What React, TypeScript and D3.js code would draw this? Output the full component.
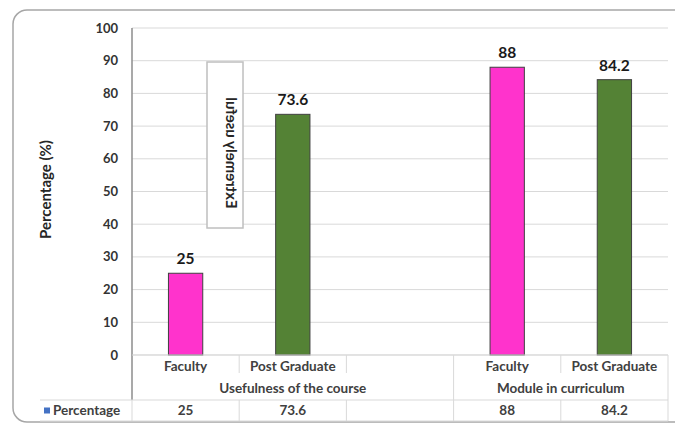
import React from "react";
import * as d3 from "d3";

const categories = ["Faculty", "Post Graduate", "", "Faculty", "Post Graduate"];
const values: (number | null)[] = [25, 73.6, null, 88, 84.2];
const groups = [
  { label: "Usefulness of the course", span: 3 },
  { label: "Module in curriculum", span: 2 },
];
const yTicks = [0, 10, 20, 30, 40, 50, 60, 70, 80, 90, 100];
const seriesName = "Percentage";
const barColors = ["#FF33CC", "#548235", "#FF33CC", "#FF33CC", "#548235"];
const annotation = "Extremely useful";

const W = 675;
const H = 426;
const FONT = "Lato, 'Open Sans', sans-serif";

export default function App() {
  const x = d3
    .scaleBand<number>()
    .domain(categories.map((_, i) => i))
    .range([132, 668])
    .padding(0);
  const y = d3.scaleLinear().domain([0, 100]).range([355, 28]);
  const bw = x.bandwidth() * 0.32;
  const x0 = 132;
  const x1 = 668;
  const row1 = 355;
  const row2 = 377;
  const row3 = 400;
  const rowEnd = 421;
  const grid = "#d9d9d9";
  const tableLine = "#d9d9d9";
  const tfs = 13.5;

  let acc = 0;
  const groupSpans = groups.map((g) => {
    const start = acc;
    acc += g.span;
    return { ...g, start, end: acc - 1 };
  });

  return (
    <svg
      width={W}
      height={H}
      style={{ position: "absolute", left: 0, top: 0, background: "#fff" }}
      fontFamily={FONT}
    >
      <rect x={0} y={0} width={W} height={H} fill="#fff" />
      <rect x={13} y={10} width={W + 20} height={412} rx={14} ry={14} fill="none" stroke="#a6a6a6" strokeWidth={1.5} />

      {yTicks.map((t) => (
        <line key={"g" + t} x1={x0} x2={x1} y1={y(t)} y2={y(t)} stroke={grid} strokeWidth={1} />
      ))}
      {yTicks.map((t) => (
        <text
          key={"t" + t}
          x={118}
          y={y(t)}
          dy="0.35em"
          textAnchor="end"
          fontSize={13}
          fontWeight={700}
          fill="#333"
        >
          {t}
        </text>
      ))}
      <text
        transform={`translate(46,${y(50) - 2}) rotate(-90)`}
        textAnchor="middle"
        dy="0.35em"
        fontSize={15}
        fontWeight={700}
        fill="#262626"
      >
        Percentage (%)
      </text>

      {values.map((v, i) =>
        v == null ? null : (
          <g key={"b" + i}>
            <rect
              x={x(i)! + x.bandwidth() / 2 - bw / 2}
              y={y(v)}
              width={bw}
              height={y(0) - y(v)}
              fill={barColors[i]}
              stroke="#404040"
              strokeWidth={1}
            />
            <text
              x={x(i)! + x.bandwidth() / 2}
              y={y(v) - 9}
              textAnchor="middle"
              fontSize={15.5}
              fontWeight={700}
              fill="#1a1a1a"
            >
              {v}
            </text>
          </g>
        )
      )}

      <line x1={x0} x2={x0} y1={y(100)} y2={row3} stroke="#8c8c8c" strokeWidth={1.5} />

      <line x1={x0} x2={x1} y1={row1} y2={row1} stroke={tableLine} />
      <line x1={40} x2={x1} y1={row3} y2={row3} stroke={tableLine} />
      <line x1={40} x2={x1} y1={rowEnd} y2={rowEnd} stroke={tableLine} />
      {categories.map((_, i) =>
        i === 0 ? null : (
          <line
            key={"v" + i}
            x1={x(i)!}
            x2={x(i)!}
            y1={row1}
            y2={groupSpans.some((g) => g.start === i) ? rowEnd : row2 - 4}
            stroke={tableLine}
          />
        )
      )}
      {categories.map((_, i) =>
        i === 0 || groupSpans.some((g) => g.start === i) ? null : (
          <line key={"vv" + i} x1={x(i)!} x2={x(i)!} y1={row3} y2={rowEnd} stroke={tableLine} />
        )
      )}
      <line x1={x0} x2={x0} y1={row3} y2={rowEnd} stroke={tableLine} />
      <line x1={x1} x2={x1} y1={row1} y2={rowEnd} stroke={tableLine} />

      {categories.map((c, i) => (
        <text
          key={"c" + i}
          x={x(i)! + x.bandwidth() / 2}
          y={(row1 + row2) / 2}
          dy="0.35em"
          textAnchor="middle"
          fontSize={tfs}
          fontWeight={700}
          fill="#404040"
        >
          {c}
        </text>
      ))}
      {groupSpans.map((g) => (
        <text
          key={g.label}
          x={(x(g.start)! + x(g.end)! + x.bandwidth()) / 2}
          y={(row2 + row3) / 2}
          dy="0.35em"
          textAnchor="middle"
          fontSize={tfs}
          fontWeight={700}
          fill="#404040"
        >
          {g.label}
        </text>
      ))}
      {values.map((v, i) =>
        v == null ? null : (
          <text
            key={"tv" + i}
            x={x(i)! + x.bandwidth() / 2}
            y={(row3 + rowEnd) / 2}
            dy="0.35em"
            textAnchor="middle"
            fontSize={tfs}
            fontWeight={700}
            fill="#404040"
          >
            {v}
          </text>
        )
      )}
      <rect x={44} y={(row3 + rowEnd) / 2 - 3} width={6} height={6} fill="#4472C4" />
      <text x={53} y={(row3 + rowEnd) / 2} dy="0.35em" fontSize={tfs} fontWeight={700} fill="#404040">
        {seriesName}
      </text>

      <rect x={207} y={62} width={36} height={166} fill="#fff" stroke="#bfbfbf" strokeWidth={1.5} />
      <text
        transform={`translate(231,153) rotate(-90) scale(1,-1)`}
        textAnchor="middle"
        dy="0.35em"
        fontSize={15}
        fontWeight={700}
        fill="#262626"
      >
        {annotation}
      </text>
    </svg>
  );
}
